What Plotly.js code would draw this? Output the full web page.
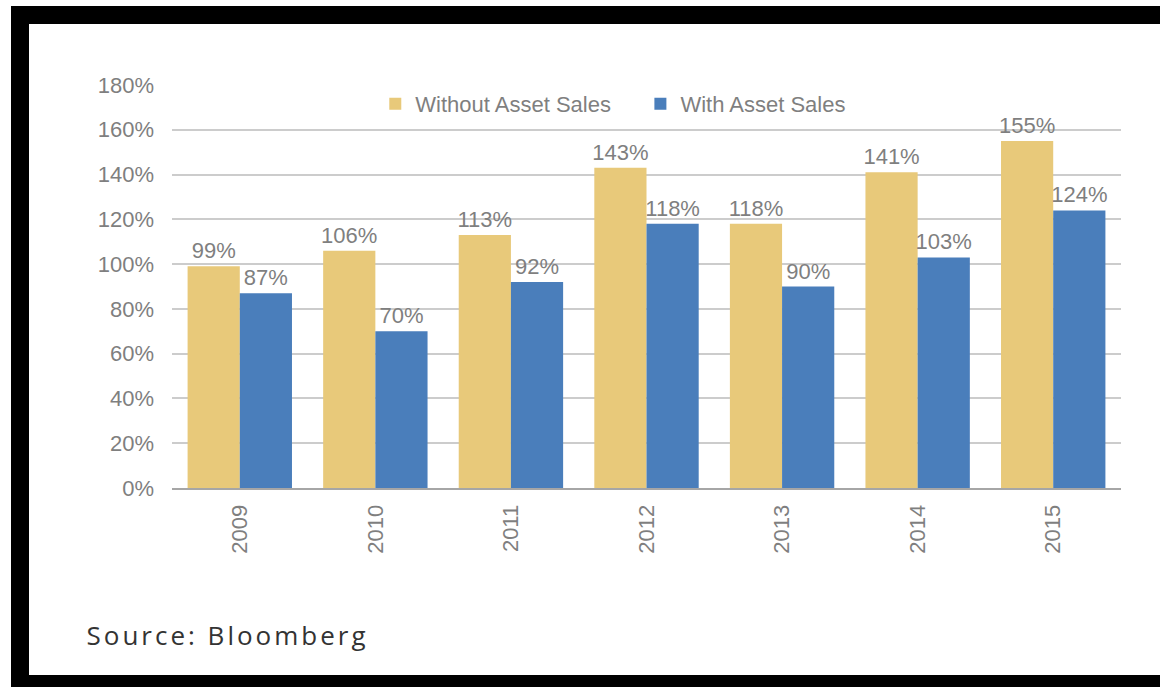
<!DOCTYPE html>
<html>
<head>
<meta charset="utf-8">
<script src="https://cdn.plot.ly/plotly-3.0.1.min.js"></script>
<style>
html,body{margin:0;padding:0;background:#fff;}
#wrap{position:relative;width:1160px;height:687px;overflow:hidden;}
#chart{position:absolute;left:0;top:0;width:1160px;height:687px;}
.band{position:absolute;background:#000;}
#chart .annotation-text{letter-spacing:3px;}
</style>
</head>
<body>
<div id="wrap">
<div id="chart"></div>
<div class="band" style="left:11px;top:6px;width:1149px;height:18px;"></div>
<div class="band" style="left:11px;top:6px;width:18px;height:681px;"></div>
<div class="band" style="left:11px;top:675px;width:1149px;height:12px;"></div>
</div>
<script>
var years = ['2009','2010','2011','2012','2013','2014','2015'];
var withoutSales = [99, 106, 113, 143, 118, 141, 155];
var withSales = [87, 70, 92, 118, 90, 103, 124];
var yTicks = [0, 20, 40, 60, 80, 100, 120, 140, 160, 180];
var yTickText = yTicks.map(function(v){return v + '%';});
var seriesNames = ['Without Asset Sales', 'With Asset Sales'];
var sourceText = 'Source: Bloomberg';

var gray = '#7f7f7f';
var fam = 'Liberation Sans, Arial, sans-serif';
var labelFont = {family: fam, size: 22, color: gray};

var traces = [
  {type: 'bar', name: seriesNames[0] + '\u00a0\u00a0\u00a0\u00a0', x: years, y: withoutSales,
   marker: {color: '#E8C97A'}, text: withoutSales.map(function(v){return v + '%';}),
   textposition: 'outside', constraintext: 'none', textfont: labelFont, cliponaxis: false, hoverinfo: 'none'},
  {type: 'bar', name: seriesNames[1], x: years, y: withSales,
   marker: {color: '#4A7EBB'}, text: withSales.map(function(v){return v + '%';}),
   textposition: 'outside', constraintext: 'none', textfont: labelFont, cliponaxis: false, hoverinfo: 'none'}
];

var layout = {
  width: 1160, height: 687,
  margin: {l: 172, r: 39, t: 85, b: 199},
  paper_bgcolor: '#ffffff', plot_bgcolor: '#ffffff',
  barmode: 'group', bargap: 0.23, bargroupgap: 0,
  showlegend: true,
  legend: {orientation: 'h', x: 0.465, xanchor: 'center', y: 1.005, yanchor: 'top',
           font: {family: fam, size: 22, color: gray},
           bgcolor: 'rgba(0,0,0,0)', itemwidth: 30, traceorder: 'normal'},
  xaxis: {type: 'category', tickangle: -90, tickfont: {family: fam, size: 22, color: gray},
          showline: true, linecolor: '#a6a6a6', linewidth: 2, ticks: '', showgrid: false, ticklen: 0,
          ticklabelstandoff: 6},
  yaxis: {range: [0, 180], tickvals: yTicks, ticktext: yTickText,
          tickfont: {family: fam, size: 22, color: gray},
          showgrid: true, gridcolor: '#cccccc', gridwidth: 2, zeroline: false,
          ticks: '', showline: false, ticklabelstandoff: 17},
  annotations: [{text: sourceText, xref: 'paper', yref: 'paper', x: 0.0585, y: -0.366,
                 xanchor: 'center', yanchor: 'middle', showarrow: false,
                 font: {family: 'Open Sans, sans-serif', size: 26, color: '#333333'}}]
};

Plotly.newPlot('chart', traces, layout, {displayModeBar: false, staticPlot: true});
</script>
</body>
</html>
